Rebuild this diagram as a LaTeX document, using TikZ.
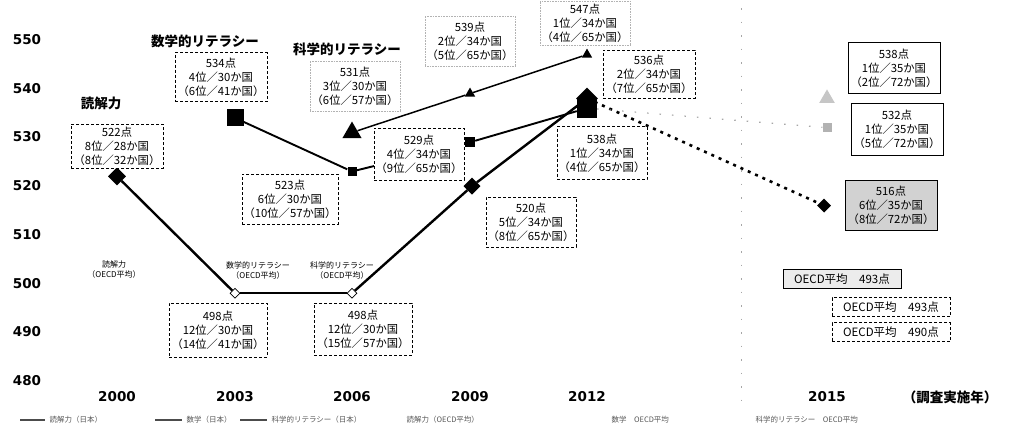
\documentclass[tikz,border=0pt]{standalone}
\usepackage{fontspec}
\setmainfont{Noto Sans CJK JP}
\newfontfamily\numfont{DejaVu Sans}
\usetikzlibrary{shapes.geometric}
\begin{document}
\begin{tikzpicture}[x=1pt,y=-1pt,
  vbox/.style={draw, densely dashed, line width=0.6pt, fill=white, align=center,
    font=\fontsize{11.3}{14}\selectfont, inner sep=1.5pt},
  sbox/.style={vbox, draw=gray!60, densely dotted},
  gbox/.style={vbox, solid, line width=0.9pt},
  obox/.style={draw, densely dashed, line width=0.7pt, fill=white, inner sep=1pt,
    font=\fontsize{11.5}{13}\selectfont, minimum width=118pt, minimum height=19pt},
  axl/.style={font=\numfont\bfseries\fontsize{13.5}{15}\selectfont},
  ttl/.style={font=\bfseries\fontsize{13.5}{15}\selectfont},
  olab/.style={align=center, font=\fontsize{8}{10}\selectfont},
  leg/.style={anchor=west, font=\fontsize{7.5}{9}\selectfont, text=gray!70!black},
  rmark/.style={diamond, fill=black, inner sep=0pt, minimum size=#1},
  rmark/.default=16pt,
  rmarkw/.style={diamond, draw=black, fill=white, line width=0.8pt, inner sep=0pt, minimum size=10pt},
  mmark/.style={rectangle, fill=black, inner sep=0pt, minimum size=#1},
  mmark/.default=10pt,
  smark/.style={regular polygon, regular polygon sides=3, fill=black, inner sep=0pt, minimum size=#1},
  smark/.default=14pt,
  rline/.style={line width=2.4pt},
  mline/.style={line width=1.9pt},
  sline/.style={line width=1.5pt},
]
\useasboundingbox (0,0) rectangle (1013,429);
\fill[white] (0,0) rectangle (1013,429);

% y axis labels
\foreach \v/\yy in {550/40,540/89,530/137,520/186,510/235,500/284,490/332,480/381}
  \node[axl] (y\v) at (27,\yy) {\v};

% x axis labels
\node[axl] (x2000) at (117,397) {2000};
\node[axl] (x2003) at (235,397) {2003};
\node[axl] (x2006) at (352,397) {2006};
\node[axl] (x2009) at (470,397) {2009};
\node[axl] (x2012) at (587,397) {2012};
\node[axl] (x2015) at (827,397) {2015};
\node[ttl] (xunit) at (950,397) {（調査実施年）};

% separator
\coordinate (sepT) at (741,8);
\coordinate (sepB) at (741,400);
\draw[gray!70, line width=1pt, dash pattern=on 1.5pt off 12pt] (sepT) -- (sepB);

% markers
\node[rmark=18pt] (r00) at (117,{40+(550-522)*4.87}) {};
\node[rmarkw] (r03) at (235,{40+(550-498)*4.87}) {};
\node[rmarkw] (r06) at (352,{40+(550-498)*4.87}) {};
\node[rmark=17pt] (r09) at (472,{40+(550-520)*4.87}) {};
\node[rmark=22pt] (r12) at (587,{40+(550-538)*4.87}) {};
\node[rmark=14pt] (r15) at (824,{40+(550-516)*4.87}) {};

\node[mmark=17pt] (m03) at (235,{40+(550-534)*4.87}) {};
\node[mmark=9pt] (m06) at (352,{40+(550-523)*4.87}) {};
\node[mmark=10pt] (m09) at (470,{40+(550-529)*4.87}) {};
\node[mmark=20pt] (m12) at (587,{40+(550-536)*4.87}) {};
\node[mmark=9pt, fill=gray!60] (m15) at (827,{40+(550-532)*4.87}) {};

\node[smark=22pt] (s06) at (352,{40+(550-531)*4.87}) {};
\node[smark=12pt] (s09) at (470,{40+(550-539)*4.87}) {};
\node[smark=12pt] (s12) at (587,{40+(550-547)*4.87}) {};
\node[smark=18pt, fill=gray!45] (s15) at (827,{40+(550-538)*4.87}) {};

% connectors
\draw[rline] (r00) -- (r03);
\draw[line width=1.5pt] (r03) -- (r06);
\draw[rline] (r06) -- (r09) -- (r12);
\draw[line width=2.6pt, dash pattern=on 3pt off 5pt] (r12) -- (r15);

\draw[mline] (m03) -- (m06) -- (m09) -- (m12);
\draw[gray!70, line width=1.2pt, dash pattern=on 1.5pt off 11pt] (m12) -- (m15);

\draw[sline] (s06) -- (s09) -- (s12);

% series titles
\node[ttl] (treading) at (101,103) {読解力};
\node[ttl] (tmath) at (205,41) {数学的リテラシー};
\node[ttl] (tsci) at (347,49) {科学的リテラシー};

% value boxes
\node[vbox, minimum width=92pt, minimum height=44pt] (b00) at (117,146) {522点\\8位／28か国\\（8位／32か国）};
\node[vbox, minimum width=92pt, minimum height=49pt] (b03m) at (221,77) {534点\\4位／30か国\\（6位／41か国）};
\node[vbox, minimum width=96pt, minimum height=50pt] (b06m) at (290,199) {523点\\6位／30か国\\（10位／57か国）};
\node[sbox, minimum width=88pt, minimum height=50pt] (b06s) at (355,86) {531点\\3位／30か国\\（6位／57か国）};
\node[sbox, minimum width=86pt, minimum height=50pt] (b09s) at (470,41) {539点\\2位／34か国\\（5位／65か国）};
\node[sbox, minimum width=86pt, minimum height=44pt] (b12s) at (585,23) {547点\\1位／34か国\\（4位／65か国）};
\node[vbox, minimum width=90pt, minimum height=52pt] (b09m) at (419,154) {529点\\4位／34か国\\（9位／65か国）};
\node[vbox, minimum width=92pt, minimum height=48pt] (b12m) at (649,74) {536点\\2位／34か国\\（7位／65か国）};
\node[vbox, minimum width=90pt, minimum height=53pt] (b12r) at (602,153) {538点\\1位／34か国\\（4位／65か国）};
\node[vbox, minimum width=90pt, minimum height=50pt] (b09r) at (531,222) {520点\\5位／34か国\\（8位／65か国）};
\node[vbox, minimum width=98pt, minimum height=54pt] (b03r) at (218,330) {498点\\12位／30か国\\（14位／41か国）};
\node[vbox, minimum width=98pt, minimum height=52pt] (b06r) at (363,329) {498点\\12位／30か国\\（15位／57か国）};
\node[gbox, minimum width=92pt, minimum height=51pt] (b15s) at (894,68) {538点\\1位／35か国\\（2位／72か国）};
\node[gbox, minimum width=92pt, minimum height=52pt] (b15m) at (897,129) {532点\\1位／35か国\\（5位／72か国）};
\node[gbox, fill=gray!35, minimum width=92pt, minimum height=50pt] (b15r) at (891,205) {516点\\6位／35か国\\（8位／72か国）};

% OECD average boxes
\node[obox, solid, fill=gray!15] (o1) at (842,279) {OECD平均　493点};
\node[obox] (o2) at (891,307) {OECD平均　493点};
\node[obox] (o3) at (891,332) {OECD平均　490点};

% OECD average labels
\node[olab] (ol1) at (114,270) {読解力\\（OECD平均）};
\node[olab] (ol2) at (258,270) {数学的リテラシー\\（OECD平均）};
\node[olab] (ol3) at (342,270) {科学的リテラシー\\（OECD平均）};

% legend
\coordinate (l1a) at (20,420); \coordinate (l1b) at (45,420);
\draw[line width=1.6pt, gray!60!black] (l1a) -- (l1b);
\node[leg] (lt1) at (46,420) {読解力（日本）};
\coordinate (l2a) at (155,420); \coordinate (l2b) at (182,420);
\draw[line width=1.6pt, gray!60!black] (l2a) -- (l2b);
\node[leg] (lt2) at (183,420) {数学（日本）};
\coordinate (l3a) at (240,420); \coordinate (l3b) at (267,420);
\draw[line width=1.2pt, gray!60!black] (l3a) -- (l3b);
\node[leg] (lt3) at (268,420) {科学的リテラシー（日本）};
\node[leg] (lt4) at (403,420) {読解力（OECD平均）};
\node[leg] (lt5) at (608,420) {数学　OECD平均};
\node[leg] (lt6) at (752,420) {科学的リテラシー　OECD平均};
\end{tikzpicture}
\end{document}
